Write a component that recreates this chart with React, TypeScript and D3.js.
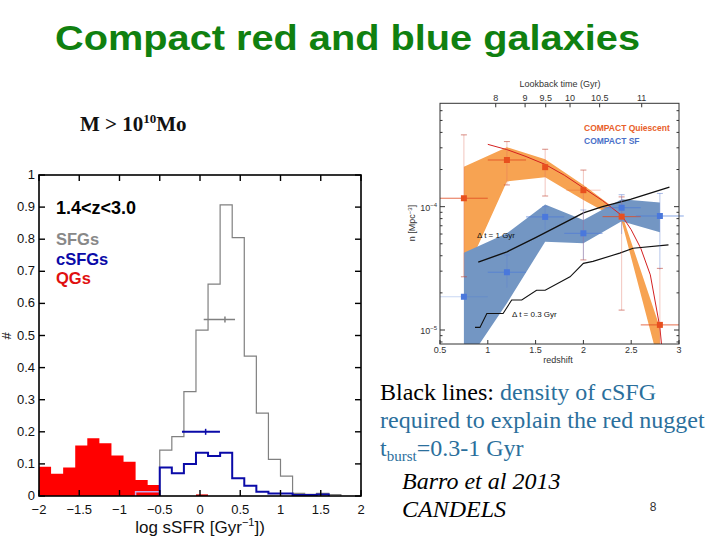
import React from "react";
import * as d3 from "d3";

// ---------- Left panel data: sSFR histograms ----------
const binWidth = 0.15;
const qgStart = -2;
const qgValues = [0.091, 0.069, 0.089, 0.157, 0.18, 0.164, 0.126, 0.107, 0.05, 0.034];
const qgTailStart = -0.05;
const qgTailValues = [0.005];
const overlapStart = -0.8;
const overlapValues = [0.013, 0.013];
const csfgStart = -0.5;
const csfgValues = [0.089, 0.071, 0.1, 0.135, 0.125, 0.135, 0.055, 0.032, 0.013, 0.008, 0.008, 0.003, 0.003, 0.005];
const sfgStart = -0.5;
const sfgValues = [0.143, 0.185, 0.325, 0.517, 0.66, 0.907, 0.805, 0.436, 0.258, 0.114, 0.062, 0.008, 0.005, 0.008, 0.004];
const sfgMean = { x: 0.31, lo: 0.046, hi: 0.435, y: 0.55 };
const csfgMean = { x: 0.07, lo: -0.224, hi: 0.248, y: 0.2 };
const leftXTicks = [-2, -1.5, -1, -0.5, 0, 0.5, 1, 1.5, 2];
const leftXTickLabels = ["\u22122", "\u22121.5", "\u22121", "\u22120.5", "0", "0.5", "1", "1.5", "2"];
const leftYTicks = [0, 0.1, 0.2, 0.3, 0.4, 0.5, 0.6, 0.7, 0.8, 0.9, 1];
const leftYTickLabels = ["0", "0.1", "0.2", "0.3", "0.4", "0.5", "0.6", "0.7", "0.8", "0.9", "1"];

// ---------- Right panel data: number densities vs redshift ----------
const zPts = [0.75, 1.2, 1.6, 2.0, 2.4, 2.8];
const cqN = [1.17e-4, 2.39e-4, 2.09e-4, 1.36e-4, 8.3e-5, 1.1e-5];
const cqErrHi = [3.82e-4, 3.37e-4, 2.92e-4, 1.98e-4, 1.2e-4, 3.16e-5];
const cqErrLo = [2.7e-5, 1.5e-4, 1.22e-4, 3.7e-5, 1.45e-5, 5e-6];
const cqXErr = [0.25, 0.2, 0, 0.18, 0.2, 0.2];
const csN = [1.86e-5, 2.94e-5, 8.26e-5, 6.08e-5, 9.8e-5, 8.4e-5];
const csErrHi = [1.86e-5, 4.06e-5, 1.0e-4, 9.4e-5, 1.25e-4, 1.28e-4];
const csErrLo = [1.86e-5, 2.2e-5, 6.5e-5, 3.7e-5, 6.0e-5, 3.1e-5];
const csXErr = [0.25, 0.2, 0.2, 0.2, 0.2, 0.25];
const cqBandHi = [2.11e-4, 3.03e-4, 2.42e-4, 1.5e-4, 8.8e-5, 1.05e-5];
const cqBandLo = [2.7e-5, 1.6e-4, 1.73e-4, 1.13e-4, 7.6e-5, 5e-6];
const csBandHi = [4.23e-5, 6.08e-5, 1.04e-4, 7.8e-5, 1.15e-4, 1.08e-4];
const csBandLo = [5e-6, 1.65e-5, 5.2e-5, 5.05e-5, 7.6e-5, 6.2e-5];
const modelZ = [1.0, 1.2, 1.4, 1.6, 1.8, 2.0, 2.2, 2.4, 2.5, 2.6, 2.7, 2.8, 2.83];
const modelN = [3.2e-4, 2.9e-4, 2.55e-4, 2.2e-4, 1.8e-4, 1.42e-4, 1.12e-4, 8.5e-5, 6.5e-5, 4.6e-5, 2.8e-5, 1.05e-5, 6e-6];
const dt1Z = [0.9, 1.2, 1.5, 1.86, 2.0, 2.2, 2.5, 2.9];
const dt1N = [3.55e-5, 4.3e-5, 5.6e-5, 7.8e-5, 8.9e-5, 1.0e-4, 1.15e-4, 1.44e-4];
const dt03Z = [0.866, 0.918, 0.99, 1.16, 1.25, 1.355, 1.51, 1.6, 1.86, 2.0, 2.1, 2.38, 2.52, 2.89];
const dt03N = [1.05e-5, 1.05e-5, 1.36e-5, 1.36e-5, 1.75e-5, 1.75e-5, 2.1e-5, 2.1e-5, 2.7e-5, 3.47e-5, 3.6e-5, 4.2e-5, 4.6e-5, 4.9e-5];
const zTicks = [0.5, 1, 1.5, 2, 2.5, 3];
const zTickLabels = ["0.5", "1", "1.5", "2", "2.5", "3"];
const lookbackLabels = ["8", "9", "9.5", "10", "10.5", "11"];
const lookbackZ = [1.083, 1.39, 1.606, 1.86, 2.17, 2.61];
const minorN = [8e-6, 9e-6, 2e-5, 3e-5, 4e-5, 5e-5, 6e-5, 7e-5, 8e-5, 9e-5, 2e-4, 3e-4, 4e-4, 5e-4, 6e-4];
const majorN = [1e-5, 1e-4];
const majorNExp = ["\u22125", "\u22124"];

const SANS = "'Liberation Sans', Arial, Helvetica, sans-serif";
const SERIF = "'Liberation Serif', 'Times New Roman', serif";

function stepPoints(start: number, values: number[]): [number, number][] {
  const pts: [number, number][] = values.map((v, i) => [start + i * binWidth, v]);
  pts.push([start + values.length * binWidth, values[values.length - 1]]);
  return pts;
}

export default function App() {
  // Left scales
  const xL = d3.scaleLinear().domain([-2, 2]).range([39, 361]);
  const yL = d3.scaleLinear().domain([0, 1]).range([496, 175]);
  const stepArea = d3
    .area<[number, number]>()
    .x((d) => xL(d[0]))
    .y0(yL(0))
    .y1((d) => yL(d[1]))
    .curve(d3.curveStepAfter);
  const stepLine = (start: number, values: number[]) => {
    const pts = stepPoints(start, values);
    const first: [number, number] = [pts[0][0], 0];
    const last: [number, number] = [pts[pts.length - 1][0], 0];
    return d3
      .line<[number, number]>()
      .x((d) => xL(d[0]))
      .y((d) => yL(d[1]))
      .curve(d3.curveStepAfter)([first, ...pts, last]) as string;
  };
  const stepLineClosed = (start: number, values: number[]) => {
    const pts = stepPoints(start, values);
    const first: [number, number] = [pts[0][0], 0];
    const endX = pts[pts.length - 1][0];
    const lineStr = d3
      .line<[number, number]>()
      .x((d) => xL(d[0]))
      .y((d) => yL(d[1]))
      .curve(d3.curveStepAfter)([first, ...pts]) as string;
    return lineStr + `L${xL(endX)},${yL(0)}`;
  };

  // Right scales
  const xR = d3.scaleLinear().domain([0.5, 3]).range([440, 679]);
  const yR = d3.scaleLog().domain([Math.pow(10, -5.1135), Math.pow(10, -3.162)]).range([344, 103.3]);
  const band = (hi: number[], lo: number[]) =>
    d3
      .area<number>()
      .x((d) => xR(d))
      .y0((_, i) => yR(lo[i]))
      .y1((_, i) => yR(hi[i]))(zPts) as string;
  const rLine = (zs: number[], ns: number[]) =>
    d3
      .line<number>()
      .x((d) => xR(d))
      .y((_, i) => yR(ns[i]))(zs) as string;

  const RL = 440, RR = 679, RT = 103.3, RB = 344;

  return (
    <svg width={720} height={540} style={{ position: "absolute", left: 0, top: 0, background: "#fff" }}>
      <rect x={0} y={0} width={720} height={540} fill="#fff" />
      {/* Title */}
      <text x={55} y={50} fontFamily={SANS} fontWeight="bold" fontSize={35} fill="#108010" textLength={585} lengthAdjust="spacingAndGlyphs">
        Compact red and blue galaxies
      </text>
      <text x={80} y={131} fontFamily={SERIF} fontWeight="bold" fontSize={21} fill="#111">
        M {">"} 10<tspan dy={-8} fontSize={13}>10</tspan><tspan dy={8}>Mo</tspan>
      </text>

      {/* ===== Left panel ===== */}
      <path d={stepArea(stepPoints(qgStart, qgValues)) as string} fill="#ff0000" />
      <path d={stepArea(stepPoints(qgTailStart, qgTailValues)) as string} fill="#e00000" />
      <path d={stepLineClosed(overlapStart, overlapValues)} fill="none" stroke="#c8a8e8" strokeWidth={1.5} />
      <path d={stepLine(sfgStart, sfgValues)} fill="none" stroke="#808080" strokeWidth={1.2} />
      <path d={stepLine(csfgStart, csfgValues)} fill="none" stroke="#0a0aa8" strokeWidth={2} />
      {/* mean error bars */}
      <line x1={xL(sfgMean.lo)} x2={xL(sfgMean.hi)} y1={yL(sfgMean.y)} y2={yL(sfgMean.y)} stroke="#808080" strokeWidth={1.5} />
      <line x1={xL(sfgMean.x)} x2={xL(sfgMean.x)} y1={yL(sfgMean.y) - 3} y2={yL(sfgMean.y) + 3} stroke="#808080" strokeWidth={1.5} />
      <line x1={xL(csfgMean.lo)} x2={xL(csfgMean.hi)} y1={yL(csfgMean.y)} y2={yL(csfgMean.y)} stroke="#0a0aa8" strokeWidth={2} />
      <line x1={xL(csfgMean.x)} x2={xL(csfgMean.x)} y1={yL(csfgMean.y) - 3} y2={yL(csfgMean.y) + 3} stroke="#0a0aa8" strokeWidth={1.5} />

      {/* frame and ticks */}
      <rect x={xL(-2)} y={yL(1)} width={xL(2) - xL(-2)} height={yL(0) - yL(1)} fill="none" stroke="#000" strokeWidth={1.6} />
      {leftXTicks.map((t, i) => (
        <g key={"lx" + i}>
          <line x1={xL(t)} x2={xL(t)} y1={yL(0)} y2={yL(0) - 6} stroke="#000" strokeWidth={1.4} />
          <line x1={xL(t)} x2={xL(t)} y1={yL(1)} y2={yL(1) + 6} stroke="#000" strokeWidth={1.4} />
          <text x={xL(t)} y={513.5} textAnchor="middle" fontFamily={SANS} fontSize={13} fill="#111">
            {leftXTickLabels[i]}
          </text>
        </g>
      ))}
      {leftYTicks.map((t, i) => (
        <g key={"ly" + i}>
          <line x1={xL(-2)} x2={xL(-2) + 6} y1={yL(t)} y2={yL(t)} stroke="#000" strokeWidth={1.4} />
          <line x1={xL(2)} x2={xL(2) - 6} y1={yL(t)} y2={yL(t)} stroke="#000" strokeWidth={1.4} />
          <text x={35} y={yL(t) + 4} textAnchor="end" fontFamily={SANS} fontSize={13} fill="#111">
            {leftYTickLabels[i]}
          </text>
        </g>
      ))}
      <text x={200} y={533} textAnchor="middle" fontFamily={SANS} fontSize={17} fill="#111">
        log sSFR [Gyr<tspan dy={-7} fontSize={11}>{"\u22121"}</tspan><tspan dy={7}>])</tspan>
      </text>
      <text transform="translate(11,336) rotate(-90)" textAnchor="middle" fontFamily={SANS} fontSize={13} fill="#111">
        #
      </text>
      <text x={56} y={214} fontFamily={SANS} fontWeight="bold" fontSize={18} fill="#000">1.4&lt;z&lt;3.0</text>
      <text x={56} y={245} fontFamily={SANS} fontWeight="bold" fontSize={16.5} fill="#888">SFGs</text>
      <text x={56} y={265} fontFamily={SANS} fontWeight="bold" fontSize={16.5} fill="#0a0aa8">cSFGs</text>
      <text x={56} y={284} fontFamily={SANS} fontWeight="bold" fontSize={16.5} fill="#e01010">QGs</text>

      {/* ===== Right panel ===== */}
      <defs>
        <clipPath id="rclip">
          <rect x={RL} y={RT} width={RR - RL} height={RB - RT} />
        </clipPath>
      </defs>
      <g clipPath="url(#rclip)">
        <path d={band(cqBandHi, cqBandLo)} fill="#f7a352" />
        <path d={band(csBandHi, csBandLo)} fill="#7396c3" />
        <path d={rLine(modelZ, modelN)} fill="none" stroke="#d42020" strokeWidth={1} />
        <path d={rLine(dt1Z, dt1N)} fill="none" stroke="#111" strokeWidth={1.4} />
        <path d={rLine(dt03Z, dt03N)} fill="none" stroke="#111" strokeWidth={1.1} />
      </g>
      {/* error bars */}
      {zPts.map((z, i) => (
        <g key={"cqe" + i}>
          <line x1={xR(z)} x2={xR(z)} y1={yR(cqErrHi[i])} y2={Math.min(RB, yR(cqErrLo[i]))} stroke="#e07060" strokeOpacity={0.4} strokeWidth={1} />
          <line x1={xR(z) - 3} x2={xR(z) + 3} y1={yR(cqErrHi[i])} y2={yR(cqErrHi[i])} stroke="#c04030" strokeOpacity={0.6} strokeWidth={1} />
          {yR(cqErrLo[i]) < RB && (
            <line x1={xR(z) - 3} x2={xR(z) + 3} y1={yR(cqErrLo[i])} y2={yR(cqErrLo[i])} stroke="#c04030" strokeOpacity={0.6} strokeWidth={1} />
          )}
          {cqXErr[i] > 0 && (
            <line x1={xR(z - cqXErr[i])} x2={xR(z + cqXErr[i])} y1={yR(cqN[i])} y2={yR(cqN[i])} stroke="#e04a20" strokeOpacity={i === 3 ? 0.3 : 0.8} strokeWidth={1} />
          )}
        </g>
      ))}
      {zPts.map((z, i) => (
        <g key={"cse" + i}>
          {csErrHi[i] > csErrLo[i] && (
            <line x1={xR(z)} x2={xR(z)} y1={yR(csErrHi[i])} y2={yR(csErrLo[i])} stroke="#6080d0" strokeOpacity={0.45} strokeWidth={1} />
          )}
          {csErrHi[i] > csErrLo[i] && (
            <line x1={xR(z) - 3} x2={xR(z) + 3} y1={yR(csErrHi[i])} y2={yR(csErrHi[i])} stroke="#6080d0" strokeOpacity={0.55} strokeWidth={1} />
          )}
          <line x1={xR(z - csXErr[i])} x2={xR(z + csXErr[i])} y1={yR(csN[i])} y2={yR(csN[i])} stroke="#4a78d8" strokeOpacity={i === 0 ? 0.3 : 0.65} strokeWidth={1} />
        </g>
      ))}
      {zPts.map((z, i) => (
        <rect key={"cqp" + i} x={xR(z) - 3} y={yR(cqN[i]) - 3} width={6} height={6} fill="#e8501e" />
      ))}
      {zPts.map((z, i) => (
        <rect key={"csp" + i} x={xR(z) - 3} y={yR(csN[i]) - 3} width={6} height={6} fill="#4a78dc" />
      ))}

      {/* frame */}
      <rect x={RL} y={RT} width={RR - RL} height={RB - RT} fill="none" stroke="#333" strokeWidth={1} />
      {zTicks.map((t, i) => (
        <g key={"zt" + i}>
          <line x1={xR(t)} x2={xR(t)} y1={RB} y2={RB - 4} stroke="#333" strokeWidth={1} />
          <text x={xR(t)} y={352.5} textAnchor="middle" fontFamily={SANS} fontSize={9} fill="#333">{zTickLabels[i]}</text>
        </g>
      ))}
      {lookbackZ.map((z, i) => (
        <g key={"lb" + i}>
          <line x1={xR(z)} x2={xR(z)} y1={RT} y2={RT + 4} stroke="#333" strokeWidth={1} />
          <text x={xR(z)} y={100.5} textAnchor="middle" fontFamily={SANS} fontSize={9} fill="#333">{lookbackLabels[i]}</text>
        </g>
      ))}
      {minorN.map((n, i) => (
        <g key={"mn" + i}>
          <line x1={RL} x2={RL + 2.5} y1={yR(n)} y2={yR(n)} stroke="#333" strokeWidth={1} />
          <line x1={RR} x2={RR - 2.5} y1={yR(n)} y2={yR(n)} stroke="#333" strokeWidth={1} />
        </g>
      ))}
      {majorN.map((n, i) => (
        <g key={"mj" + i}>
          <line x1={RL} x2={RL + 5} y1={yR(n)} y2={yR(n)} stroke="#333" strokeWidth={1} />
          <line x1={RR} x2={RR - 5} y1={yR(n)} y2={yR(n)} stroke="#333" strokeWidth={1} />
          <text x={437} y={yR(n) + 4} textAnchor="end" fontFamily={SANS} fontSize={9} fill="#333">
            10<tspan dy={-4} fontSize={6}>{majorNExp[i]}</tspan>
          </text>
        </g>
      ))}
      <text x={560} y={86.5} textAnchor="middle" fontFamily={SANS} fontSize={9} fill="#333">Lookback time (Gyr)</text>
      <text x={558} y={363} textAnchor="middle" fontFamily={SANS} fontSize={9} fill="#333">redshift</text>
      <text transform="translate(415,223) rotate(-90)" textAnchor="middle" fontFamily={SANS} fontSize={9} fill="#333">
        n [Mpc<tspan dy={-3} fontSize={6}>{"\u22123"}</tspan><tspan dy={3}>]</tspan>
      </text>
      <text x={584} y={131} fontFamily={SANS} fontWeight="bold" fontSize={8.5} fill="#e8602a">COMPACT Quiescent</text>
      <text x={584} y={143.5} fontFamily={SANS} fontWeight="bold" fontSize={8.5} fill="#4a70c8">COMPACT SF</text>
      <text x={477} y={238} fontFamily={SANS} fontSize={8} fill="#111">{"\u0394"} t = 1 Gyr</text>
      <text x={512} y={316.5} fontFamily={SANS} fontSize={8} fill="#111">{"\u0394"} t = 0.3 Gyr</text>

      {/* ===== Text block ===== */}
      <text x={380} y={400} fontFamily={SERIF} fontSize={24} fill="#000">
        Black lines: <tspan fill="#2b6f9c">density of cSFG</tspan>
      </text>
      <text x={380} y={428} fontFamily={SERIF} fontSize={24} fill="#2b6f9c">required to explain the red nugget</text>
      <text x={380} y={456} fontFamily={SERIF} fontSize={24} fill="#2b6f9c">
        t<tspan dy={5} fontSize={15}>burst</tspan><tspan dy={-5}>=0.3-1 Gyr</tspan>
      </text>
      <text x={402} y={489} fontFamily={SERIF} fontStyle="italic" fontSize={24} fill="#000">Barro et al 2013</text>
      <text x={402} y={517} fontFamily={SERIF} fontStyle="italic" fontSize={24} fill="#000">CANDELS</text>
      <text x={653} y={511} fontFamily={SANS} fontSize={12} fill="#333" textAnchor="middle">8</text>
    </svg>
  );
}
